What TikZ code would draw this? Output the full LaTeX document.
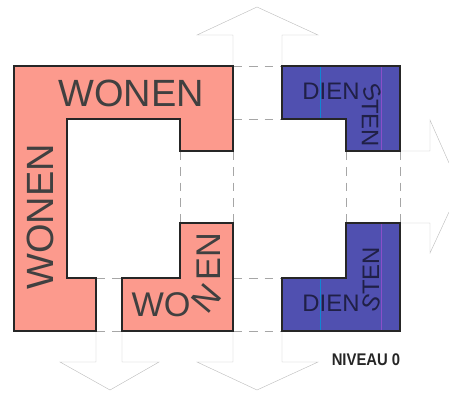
\documentclass[tikz,border=0pt]{standalone}
\usepackage{fontspec}
\setmainfont{Liberation Sans}
\definecolor{wonenfill}{HTML}{FC9A8D}
\definecolor{dienstfill}{HTML}{5050B0}
\definecolor{seamcolor}{HTML}{8A4FC8}
\begin{document}
\begin{tikzpicture}[
			x=0.02cm,
			y=-0.02cm,
			wonenblock/.style={
				draw=black!85,
				fill=wonenfill,
				line width=0.7pt,
				line join=miter
			},
			dienstblock/.style={
				draw=black!85,
				fill=dienstfill,
				line width=0.7pt,
				line join=miter
			},
			axisline/.style={
				draw=black!35,
				line width=0.3pt,
				dash pattern=on 5pt off 4pt
			},
			arrowline/.style={
				draw=black!25,
				line width=0.25pt
			},
			wonenlabel/.style={
				inner sep=0pt,
				text=black!75,
				font=\fontsize{21.6}{24}\selectfont
			},
			wonensmall/.style={
				inner sep=0pt,
				text=black!75,
				font=\fontsize{19.5}{22}\selectfont
			},
			dienstlabel/.style={
				inner sep=0pt,
				text=black!60!dienstfill,
				font=\fontsize{13.6}{16}\selectfont
			}
			]
			\useasboundingbox (0,0) rectangle (449,395);
			
			% dashed axes between the blocks
			\draw[axisline] (233,66) -- (282,66);
			\draw[axisline] (233,119) -- (282,119);
			\draw[axisline] (233,278) -- (282,278);
			\draw[axisline] (233,331) -- (282,331);
			\draw[axisline] (96,278) -- (122,278);
			\draw[axisline] (96,331) -- (122,331);
			\draw[axisline] (180,151) -- (180,223);
			\draw[axisline] (233,151) -- (233,223);
			\draw[axisline] (346,151) -- (346,223);
			\draw[axisline] (400,151) -- (400,223);
			
			% open arrows
			\draw[arrowline] (233,66) -- (233,35) -- (197,35) -- (257,7) -- (318,35) -- (282,35) -- (282,66);
			\draw[arrowline] (400,151) -- (430,151) -- (430,120) -- (449,163);
			\draw[arrowline] (400,223) -- (430,223) -- (430,253) -- (449,212);
			\draw[arrowline] (96,331) -- (96,362) -- (60,362) -- (110,390) -- (159,362) -- (122,362) -- (122,331);
			\draw[arrowline] (233,331) -- (233,362) -- (197,362) -- (257,390) -- (318,362) -- (282,362) -- (282,331);
			
			% blocks
			\draw[wonenblock] (14,66) -- (233,66) -- (233,151) -- (180,151) -- (180,119) -- (67,119) -- (67,278) -- (96,278) -- (96,331) -- (14,331) -- cycle;
			\draw[wonenblock] (122,331) -- (233,331) -- (233,223) -- (180,223) -- (180,278) -- (122,278) -- cycle;
			\draw[dienstblock] (282,66) -- (400,66) -- (400,151) -- (346,151) -- (346,119) -- (282,119) -- cycle;
			\draw[dienstblock] (346,223) -- (400,223) -- (400,331) -- (282,331) -- (282,278) -- (346,278) -- cycle;
			\draw[cyan!70!blue, line width=0.4pt] (320,67) -- (320,118);
			\draw[cyan!70!blue, line width=0.4pt] (320,279) -- (320,330);
			\draw[seamcolor, line width=0.5pt] (381,67) -- (381,150);
			\draw[seamcolor, line width=0.5pt] (381,224) -- (381,330);
			
			% labels
			\node[wonenlabel] (wonentop) at (131,93.5) {WONEN};
			\node[wonenlabel, rotate=90] (wonenleft) at (40,217) {WONEN};
			\node[wonensmall] (wonenwo) at (161,304.5) {WO};
			\node[wonensmall, rotate=50] (wonenn) at (206,298) {N};
			\node[wonensmall, rotate=90] (wonenen) at (209,257) {EN};
			\node[dienstlabel] (diensttop) at (331,91) {DIEN};
			\node[dienstlabel, rotate=-65] (dienstsa) at (372,92) {S};
			\node[dienstlabel, rotate=-90] (dienstten) at (370,123) {TEN};
			\node[dienstlabel] (dienstbot) at (331,303) {DIEN};
			\node[dienstlabel, rotate=65] (dienstsb) at (371,303) {S};
			\node[dienstlabel, rotate=90] (dienstenb) at (371,271) {TEN};
			\node[inner sep=0pt, xscale=0.88, font=\bfseries\fontsize{9.6}{12}\selectfont, text=black!85] (niveau) at (366,360) {NIVEAU 0};
		\end{tikzpicture}
\end{document}
